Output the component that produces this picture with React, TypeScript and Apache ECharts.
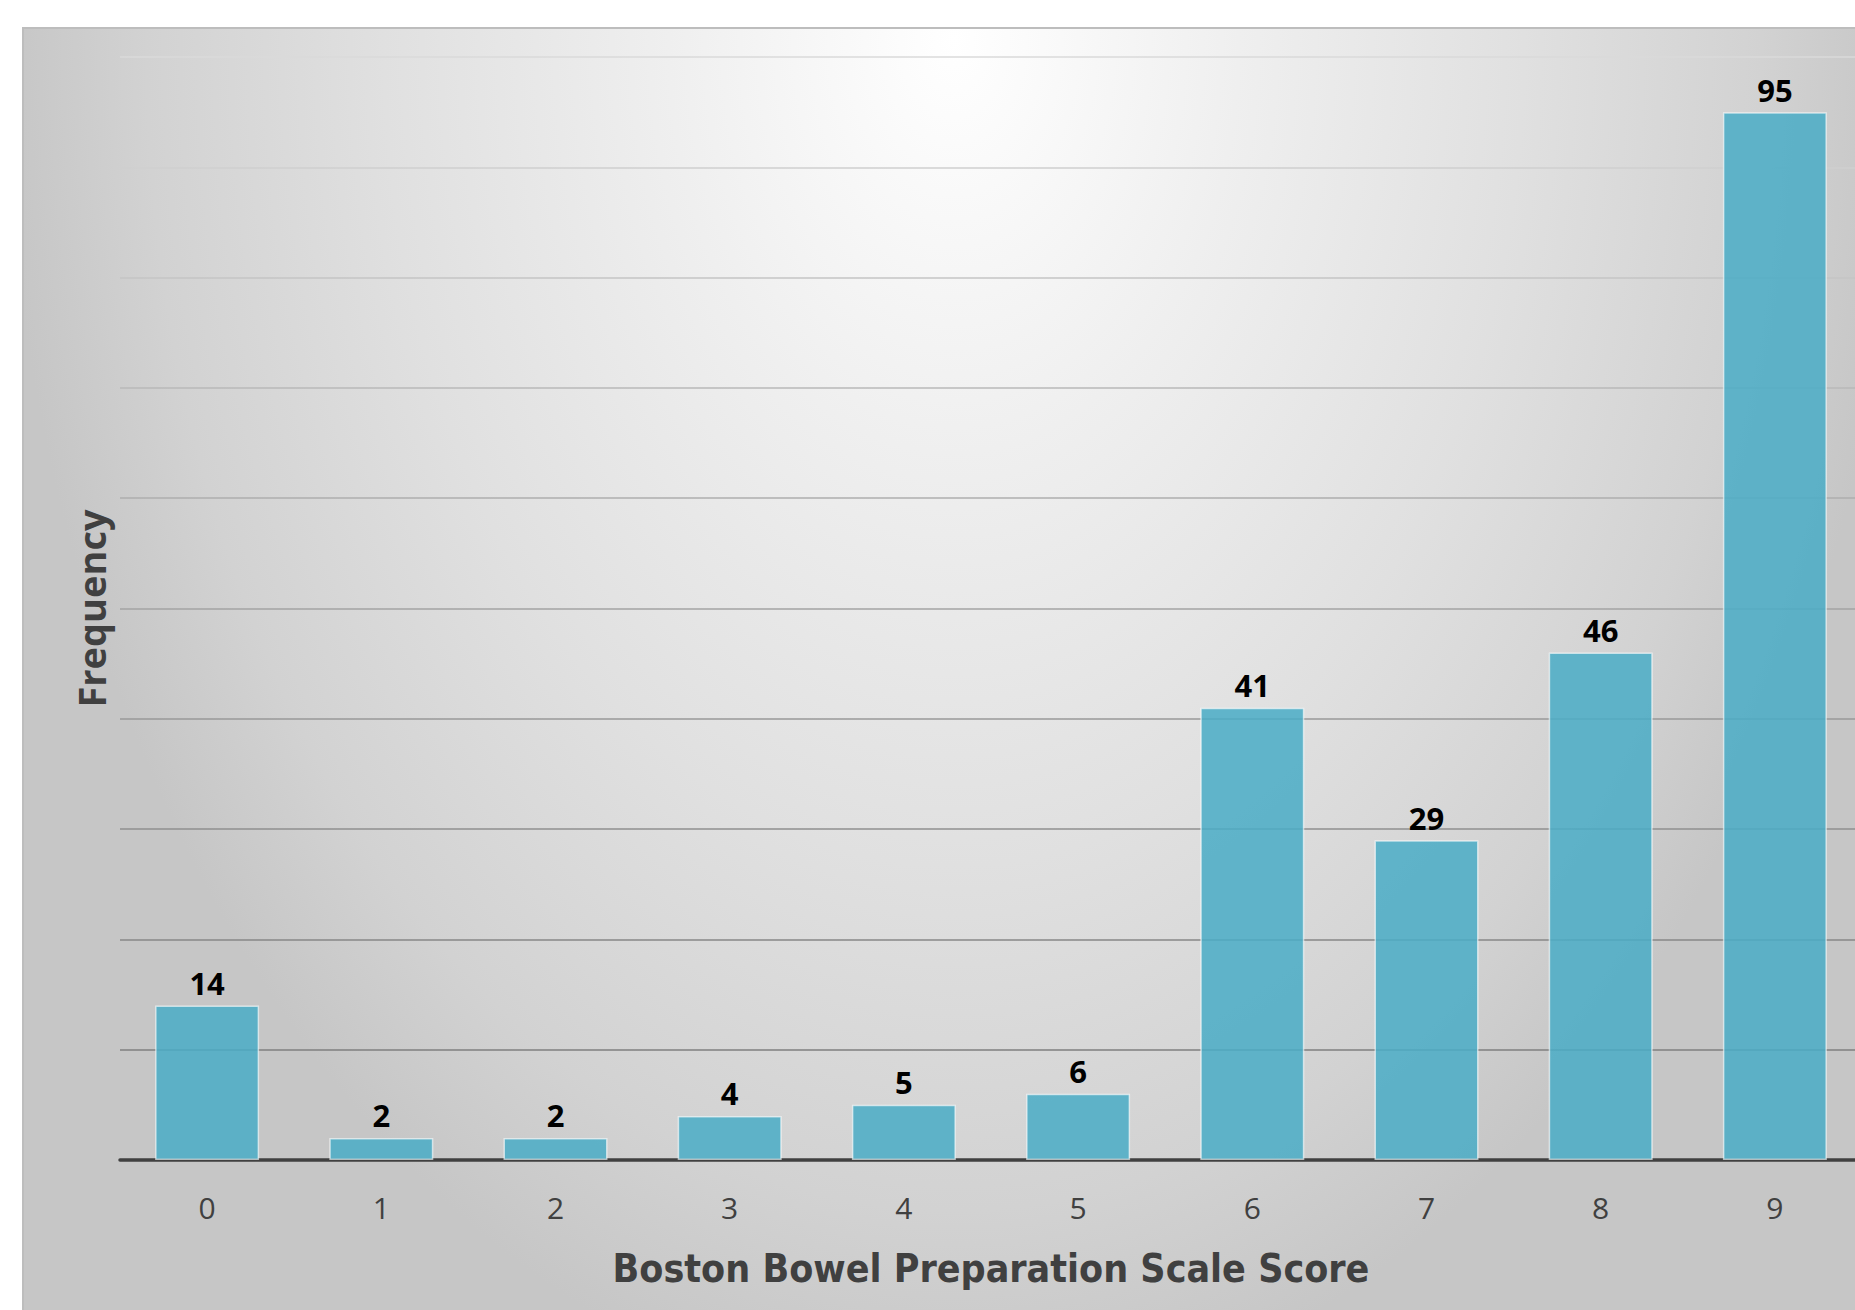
import React, { useEffect, useRef } from "react";
import * as echarts from "echarts";

const categories = ["0", "1", "2", "3", "4", "5", "6", "7", "8", "9"];
const frequency = [14, 2, 2, 4, 5, 6, 41, 29, 46, 95];
const yMin = 0;
const yMax = 100;
const yStep = 10;
const xTitle = "Boston Bowel Preparation Scale Score";
const yTitle = "Frequency";
// gridline colours from value 0 (bottom) to value 100 (top): darker at the bottom
const gridLineColors = [
  "#7a7a7a", "#7f7f7f", "#878787", "#8f8f8f", "#999999", "#a3a3a3",
  "#aeaeae", "#b9b9b9", "#c4c4c4", "#cfcfcf", "#dadada",
];

export default function App() {
  const ref = useRef<HTMLDivElement>(null);
  useEffect(() => {
    const chart = echarts.init(ref.current as HTMLDivElement, null, { renderer: "svg" });
    chart.setOption({
      animation: false,
      graphic: {
        elements: [
          {
            type: "rect",
            z: -101,
            silent: true,
            shape: { x: 23, y: 28, width: 1950, height: 1400 },
            style: { fill: "#c6c6c6" },
          },
          {
            type: "rect",
            z: -100,
            silent: true,
            x: 23,
            y: 28,
            scaleX: 1,
            scaleY: 1.45,
            shape: { x: 0, y: 0, width: 1900, height: 1900 },
            style: {
              fill: new echarts.graphic.RadialGradient(0.49, 0.004, 0.5, [
                { offset: 0, color: "#ffffff" },
                { offset: 0.3, color: "#efefef" },
                { offset: 0.6, color: "#e0e0e0" },
                { offset: 0.85, color: "#d2d2d2" },
                { offset: 1, color: "#c6c6c6" },
              ]),
            },
          },
          {
            type: "rect",
            z: -99,
            silent: true,
            shape: { x: 23, y: 28, width: 1950, height: 1400 },
            style: { fill: "none", stroke: "#bdbdbd", lineWidth: 2 },
          },
        ],
      },
      grid: { left: 120, top: 57, width: 1742, height: 1103, containLabel: false },
      xAxis: {
        type: "category",
        data: categories,
        axisLine: { show: true, lineStyle: { color: "#404040", width: 3.5 } },
        axisTick: { show: false },
        axisLabel: {
          margin: 32,
          fontFamily: "Open Sans",
          fontSize: 30,
          color: "#404040",
        },
        name: xTitle,
        nameLocation: "middle",
        nameGap: 89,
        nameTextStyle: {
          fontFamily: "'Liberation Sans Narrow', 'DejaVu Sans Condensed', 'Open Sans'",
          fontWeight: "bold",
          fontSize: 39,
          color: "#404040",
        },
      },
      yAxis: {
        type: "value",
        min: yMin,
        max: yMax,
        interval: yStep,
        axisLine: { show: false },
        axisTick: { show: false },
        axisLabel: { show: false },
        splitLine: { show: true, lineStyle: { color: gridLineColors, width: 1.5 } },
        name: yTitle,
        nameLocation: "middle",
        nameGap: 10,
        nameTextStyle: {
          fontFamily: "Open Sans",
          fontWeight: "bold",
          fontSize: 38,
          color: "#404040",
        },
      },
      series: [
        {
          type: "bar",
          data: frequency,
          barWidth: 104,
          itemStyle: {
            color: "rgba(75,172,198,0.86)",
            borderColor: "rgba(255,255,255,0.6)",
            borderWidth: 1.5,
          },
          label: {
            show: true,
            position: "top",
            distance: 7,
            fontFamily: "Open Sans",
            fontWeight: "bold",
            fontSize: 31,
            color: "#000000",
          },
        },
      ],
    });
    return () => chart.dispose();
  }, []);
  return (
    <div
      style={{
        position: "fixed",
        left: 0,
        top: 0,
        width: 1855,
        height: 1310,
        overflow: "hidden",
        background: "#ffffff",
      }}
    >
      <div ref={ref} style={{ width: 1890, height: 1310 }} />
    </div>
  );
}
